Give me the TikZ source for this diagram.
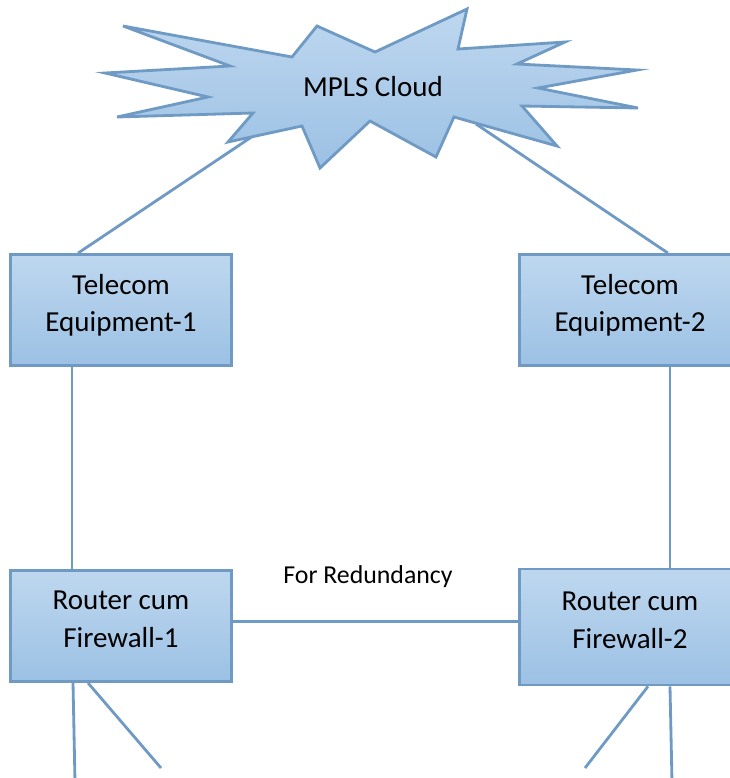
\documentclass[tikz,border=0pt]{standalone}
\usepackage{fontspec}
\setmainfont{Carlito}
\usetikzlibrary{positioning,calc}

\definecolor{edgeblue}{RGB}{110,154,196}
\definecolor{topblue}{RGB}{190,215,239}
\definecolor{botblue}{RGB}{156,193,228}

\tikzset{
  unit/.style = {draw=edgeblue, line width=1.6pt, top color=topblue, bottom color=botblue,
                 minimum width=4.42cm, minimum height=2.22cm, align=center,
                 font=\fontsize{16.5}{21.5}\selectfont, inner sep=0pt, text depth=8pt},
  link/.style = {draw=edgeblue, line width=1.6pt}
}

\begin{document}
\begin{tikzpicture}[x=0.02cm, y=-0.02cm]
\useasboundingbox (0,0) rectangle (730,778);
\clip (0,0) rectangle (730,778);

\node[unit] (tel1) at (121,310) {Telecom\\Equipment-1};
\node[unit] (tel2) at (630,310) {Telecom\\Equipment-2};
\node[unit] (rt1) at (121,626) {Router cum\\Firewall-1};
\node[unit, minimum height=2.32cm] (rt2) at (630,627) {Router cum\\Firewall-2};
\node[font=\fontsize{14.7}{18}\selectfont] (red) at (368,577) {For Redundancy};

% free ends
\coordinate (c1) at (262,130);
\coordinate (c2) at (476,124);
\coordinate (d1) at (75,782);
\coordinate (d2) at (161,768);
\coordinate (d3) at (585,768);
\coordinate (d4) at (672,782);

\path[link] ([xshift=-0.86cm]tel1.north) -- (c1);
\path[link] ([xshift=0.76cm]tel2.north) -- (c2);
\path[link] ([xshift=-0.98cm]tel1.south) -- ([xshift=-0.98cm]rt1.north);
\path[link] ([xshift=0.80cm]tel2.south) -- ([xshift=0.80cm]rt2.north);
\path[link] ([yshift=0.09cm]rt1.east) -- ([yshift=0.09cm]rt1.east -| rt2.west);
\path[link] ([xshift=-0.96cm]rt1.south) -- (d1);
\path[link] ([xshift=-0.66cm]rt1.south) -- (d2);
\path[link] ([xshift=0.36cm]rt2.south) -- (d3);
\path[link] ([xshift=0.80cm]rt2.south) -- (d4);

% the cloud
\path[draw=edgeblue, line width=1.6pt, line join=miter, top color=topblue, bottom color=botblue]
  (123,26) -- (292,57) -- (317,26) -- (375,52) -- (467,9) -- (458,49) -- (565,42)
  -- (517,64) -- (637,70) -- (538,88) -- (638,108) -- (522,106) -- (557,146)
  -- (454,117) -- (436,157) -- (370,121) -- (320,168) -- (302,126) -- (228,142)
  -- (253,113) -- (117,117) -- (208,97) -- (105,73) -- (230,66) -- cycle;
\node[font=\fontsize{16.5}{21}\selectfont] (mpls) at (373,87) {MPLS Cloud};
\end{tikzpicture}
\end{document}
